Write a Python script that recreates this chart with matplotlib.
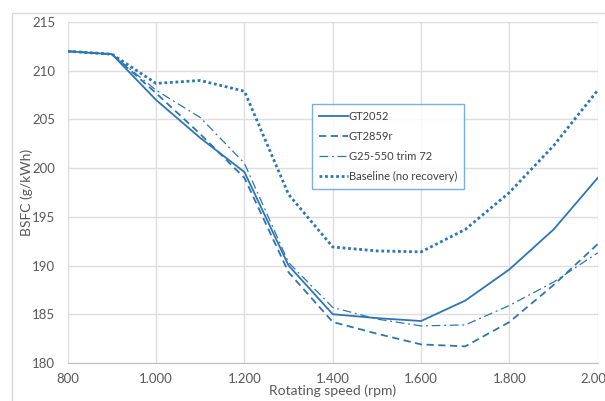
import matplotlib
matplotlib.use("Agg")
from matplotlib import pyplot as plt
from matplotlib.patches import Rectangle
from matplotlib.ticker import FuncFormatter

rpm = [800, 900, 1000, 1100, 1200, 1300, 1400, 1500, 1600, 1700, 1800, 1900, 2000]
gt2052 = [212.0, 211.7, 207.0, 203.1, 199.6, 190.0, 185.0, 184.6, 184.3, 186.4, 189.6, 193.7, 199.0]
gt2859r = [212.0, 211.7, 207.7, 203.5, 199.0, 189.3, 184.2, 183.0, 181.9, 181.7, 184.2, 188.0, 192.2]
g25_550 = [212.0, 211.7, 208.0, 205.2, 200.5, 190.3, 185.7, 184.5, 183.8, 183.9, 185.9, 188.3, 191.3]
baseline = [212.0, 211.7, 208.7, 209.0, 207.9, 197.3, 191.9, 191.5, 191.4, 193.7, 197.5, 202.3, 208.0]

blue = "#2E75B6"
grey = "#595959"
plt.rcParams["font.family"] = ["Lato", "DejaVu Sans"]

fig = plt.figure(figsize=(6.05, 4.01), dpi=100)
ax = fig.add_axes([0.112, 0.095, 0.876, 0.85])

ax.plot(rpm, gt2052, color=blue, lw=1.3, label="GT2052")
ax.plot(rpm, gt2859r, color=blue, lw=1.3, ls=(0, (4, 2.5)), label="GT2859r")
ax.plot(rpm, g25_550, color=blue, lw=0.9, ls=(0, (7, 3, 1.5, 3)), label="G25-550 trim 72")
ax.plot(rpm, baseline, color=blue, lw=2.0, ls=(0, (1, 1)), label="Baseline (no recovery)")

ax.set_xlim(800, 2000)
ax.set_ylim(180, 215)
ax.set_xticks(range(800, 2001, 200))
ax.set_yticks(range(180, 216, 5))
ax.xaxis.set_major_formatter(FuncFormatter(lambda v, p: f"{int(v):,}".replace(",", ".")))
ax.grid(True, color="#DDDDDD", lw=1)
ax.set_axisbelow(True)
for s in ["top", "right", "left"]:
    ax.spines[s].set_visible(False)
ax.spines["bottom"].set_color("#BFBFBF")
ax.tick_params(length=0, labelsize=9.5, labelcolor=grey)
ax.tick_params(axis="x", pad=7)
ax.tick_params(axis="y", pad=9)

ax.set_xlabel("Rotating speed (rpm)", fontsize=10, color=grey)
ax.set_ylabel("BSFC (g/kWh)", fontsize=10, color=grey)
ax.xaxis.set_label_coords(0.5, -0.083)
ax.yaxis.set_label_coords(-0.078, 0.5)
ax.xaxis.label.set_va("center")
ax.yaxis.label.set_va("center")

leg = ax.legend(loc="lower left", bbox_to_anchor=(0.46, 0.51), fontsize=8,
                frameon=True, fancybox=False, handlelength=2.6, handletextpad=0.1,
                labelspacing=0.8, borderpad=0.65, borderaxespad=0)
leg.get_frame().set_edgecolor("#5B9BD5")
leg.get_frame().set_linewidth(1.0)
for t in leg.get_texts():
    t.set_color("#404040")

fig.patches.append(Rectangle((12 / 605, -0.1), 1.2, 1 - 13 / 401 + 0.1, transform=fig.transFigure,
                             fill=False, edgecolor="#D9D9D9", lw=1))

fig.savefig("out.png", dpi=100)
